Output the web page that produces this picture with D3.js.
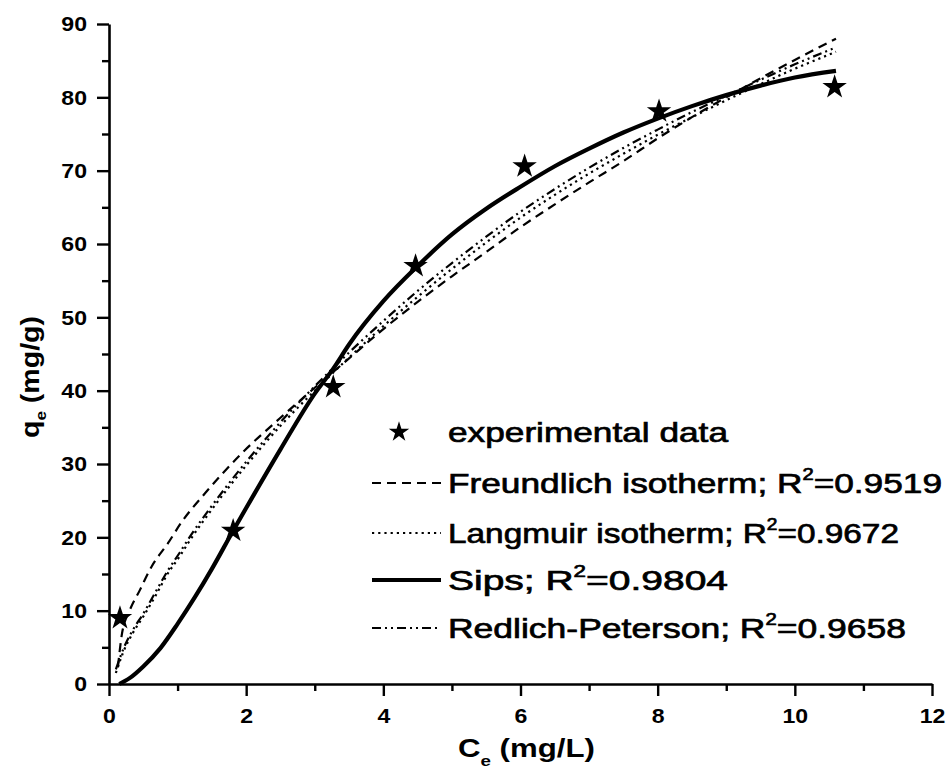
<!DOCTYPE html>
<html><head><meta charset="utf-8">
<script src="https://cdn.jsdelivr.net/npm/d3@7/dist/d3.min.js"></script>
<style>
html,body{margin:0;padding:0;background:#fff;}
text{font-family:"Liberation Sans",Arial,sans-serif;fill:#000;}
</style></head>
<body>
<svg id="chart" width="951" height="770"></svg>
<script>
// ---- data ----
const xMajorTicks = [0, 2, 4, 6, 8, 10, 12];
const xMinorTicks = [1, 3, 5, 7, 9, 11];
const yMajorTicks = [0, 10, 20, 30, 40, 50, 60, 70, 80, 90];
const yMinorTicks = [5, 15, 25, 35, 45, 55, 65, 75, 85];

const expC = [0.16, 1.81, 3.27, 4.47, 6.06, 8.02, 10.58];
const expQ = [9.0, 20.9, 40.5, 57.0, 70.6, 78.1, 81.4];

const freundC = [0.13, 0.19, 0.3, 0.45, 0.62, 0.86, 1.06, 1.4, 1.94, 2.5, 3.0, 3.5, 4.0, 4.5, 5.0, 5.5, 6.0, 6.5, 7.0, 7.5, 8.0, 8.5, 9.0, 9.5, 10.0, 10.6];
const freundQ = [2.3, 6.9, 10.0, 12.8, 16.0, 19.2, 22.1, 26.0, 31.5, 36.3, 40.4, 44.4, 48.4, 52.1, 55.6, 58.9, 62.3, 65.4, 68.4, 71.3, 74.4, 77.3, 80.0, 82.6, 85.1, 88.0];

const langC = [0.1, 0.21, 0.35, 0.5, 0.67, 0.86, 1.03, 1.18, 1.5, 2.0, 2.5, 3.0, 3.5, 4.0, 4.5, 5.0, 5.5, 6.0, 6.5, 7.0, 7.5, 8.0, 8.5, 9.0, 9.5, 10.0, 10.6];
const langQ = [1.5, 4.4, 7.0, 9.2, 11.9, 15.1, 17.4, 19.6, 23.8, 29.8, 35.2, 40.0, 44.5, 48.8, 52.8, 56.6, 60.2, 63.6, 66.7, 69.6, 72.3, 74.9, 77.3, 79.6, 81.8, 83.9, 86.2];

const rpC = [0.1, 0.21, 0.35, 0.5, 0.67, 0.86, 1.03, 1.18, 1.5, 2.0, 2.5, 3.0, 3.5, 4.0, 4.5, 5.0, 5.5, 6.0, 6.5, 7.0, 7.5, 8.0, 8.5, 9.0, 9.5, 10.0, 10.6];
const rpQ = [2.0, 4.8, 7.4, 9.6, 12.4, 15.5, 17.9, 20.1, 24.3, 30.3, 35.7, 40.6, 45.2, 49.5, 53.6, 57.4, 61.0, 64.4, 67.5, 70.4, 73.1, 75.6, 78.0, 80.2, 82.4, 84.5, 86.8];

const sipsC = [0.15, 0.3, 0.5, 0.75, 1.0, 1.25, 1.5, 1.81, 2.0, 2.5, 3.0, 3.27, 3.5, 4.0, 4.5, 5.0, 5.5, 6.0, 6.5, 7.0, 7.5, 8.0, 8.5, 9.0, 9.5, 10.0, 10.6];
const sipsQ = [0.0, 0.8, 2.4, 4.9, 8.2, 11.8, 15.7, 20.9, 24.0, 32.0, 39.6, 43.0, 46.3, 52.2, 57.0, 61.3, 64.8, 67.8, 70.6, 73.0, 75.2, 77.1, 78.8, 80.3, 81.6, 82.7, 83.6];

const legendLabels = [
  {name: "experimental data", r2: null},
  {name: "Freundlich isotherm; R", r2: "=0.9519"},
  {name: "Langmuir isotherm; R", r2: "=0.9672"},
  {name: "Sips; R", r2: "=0.9804"},
  {name: "Redlich-Peterson; R", r2: "=0.9658"}
];

// ---- layout ----
const svg = d3.select("#chart");
const x = d3.scaleLinear().domain([0, 12]).range([109, 932]);
const y = d3.scaleLinear().domain([0, 90]).range([684, 24]);

const styles = {
  freund: {dash: "9,6", width: 2.2},
  lang: {dash: "2.2,4", width: 2.2},
  sips: {dash: null, width: 4.2},
  rp: {dash: "9,4,2,4,2,4", width: 2.2}
};

// axes
function styleAxis(g) {
  g.selectAll("path.domain").attr("stroke", "#000").attr("stroke-width", 2.6);
  g.selectAll(".tick line").attr("stroke", "#000").attr("stroke-width", 2.4);
}
const gx = svg.append("g").attr("transform", `translate(0,${y(0)})`)
  .call(d3.axisBottom(x).tickValues(xMajorTicks).tickSize(12).tickPadding(12).tickSizeOuter(0).tickFormat(d3.format("d")));
styleAxis(gx);
const gxm = svg.append("g").attr("transform", `translate(0,${y(0)})`)
  .call(d3.axisBottom(x).tickValues(xMinorTicks).tickSize(7).tickSizeOuter(0).tickFormat(""));
gxm.select("path.domain").remove(); styleAxis(gxm);

const gy = svg.append("g").attr("transform", `translate(${x(0)},0)`)
  .call(d3.axisLeft(y).tickValues(yMajorTicks).tickSize(12).tickPadding(10).tickSizeOuter(0).tickFormat(d3.format("d")));
styleAxis(gy);
const gym = svg.append("g").attr("transform", `translate(${x(0)},0)`)
  .call(d3.axisLeft(y).tickValues(yMinorTicks).tickSize(7).tickSizeOuter(0).tickFormat(""));
gym.select("path.domain").remove(); styleAxis(gym);

[gx, gy].forEach(g => g.selectAll(".tick text")
  .style("font-family", '"Liberation Sans",Arial,sans-serif')
  .style("font-size", "21px").style("font-weight", "bold").attr("fill", "#000"));
// widen tick labels like the reference
[gx, gy].forEach(g => g.selectAll(".tick text").each(function() {
  const w = this.getComputedTextLength();
  d3.select(this).attr("textLength", w * 1.1).attr("lengthAdjust", "spacingAndGlyphs");
}));

// axis titles
const xt = svg.append("text").attr("x", 458).attr("y", 757)
  .style("font-size", "25px").style("font-weight", "bold");
xt.append("tspan").text("C");
xt.append("tspan").attr("dy", 9).style("font-size", "15px").text("e");
xt.append("tspan").attr("dy", -9).text(" (mg/L)");
xt.attr("textLength", 137).attr("lengthAdjust", "spacingAndGlyphs");

const yt = svg.append("text").attr("transform", "translate(39,438) rotate(-90)")
  .style("font-size", "25px").style("font-weight", "bold");
yt.append("tspan").text("q");
yt.append("tspan").attr("dy", 7).style("font-size", "15px").text("e");
yt.append("tspan").attr("dy", -7).text(" (mg/g)");
yt.attr("textLength", 122).attr("lengthAdjust", "spacingAndGlyphs");

// curves
const line = d3.line().x(d => x(d[0])).y(d => y(d[1])).curve(d3.curveMonotoneX);
function drawCurve(cs, qs, st) {
  svg.append("path").datum(d3.zip(cs, qs))
    .attr("d", line).attr("fill", "none").attr("stroke", "#000")
    .attr("stroke-width", st.width).attr("stroke-dasharray", st.dash)
    .attr("stroke-linecap", "butt").attr("stroke-linejoin", "round");
}
drawCurve(freundC, freundQ, styles.freund);
drawCurve(langC, langQ, styles.lang);
drawCurve(rpC, rpQ, styles.rp);
drawCurve(sipsC, sipsQ, styles.sips);

// experimental points
const star = d3.symbol().type(d3.symbolStar).size(185);
svg.append("g").selectAll("path").data(d3.zip(expC, expQ)).join("path")
  .attr("d", star).attr("transform", d => `translate(${x(d[0])},${y(d[1])})`)
  .attr("fill", "#000");

// legend
const legRows = [432, 483, 533, 580, 628];
const legWidths = [280, 494, 451, 280, 458];
const legKeys = [null, styles.freund, styles.lang, styles.sips, styles.rp];
const lg = svg.append("g");
legendLabels.forEach((lab, i) => {
  const cy = legRows[i];
  if (i === 0) {
    lg.append("path").attr("d", d3.symbol().type(d3.symbolStar).size(130)())
      .attr("transform", `translate(399,${cy})`).attr("fill", "#000");
  } else {
    const st = legKeys[i];
    lg.append("line").attr("x1", 372).attr("x2", 441).attr("y1", cy).attr("y2", cy)
      .attr("stroke", "#000").attr("stroke-width", st.width).attr("stroke-dasharray", st.dash);
  }
  const t = lg.append("text").attr("x", 448).attr("y", cy + 10)
    .style("font-size", "28px").attr("stroke", "#000").attr("stroke-width", 0.7);
  t.append("tspan").text(lab.name);
  if (lab.r2) {
    t.append("tspan").attr("dy", -13).style("font-size", "16px").text("2");
    t.append("tspan").attr("dy", 13).text(lab.r2);
  }
  t.attr("textLength", legWidths[i]).attr("lengthAdjust", "spacingAndGlyphs");
});
</script>
</body></html>
